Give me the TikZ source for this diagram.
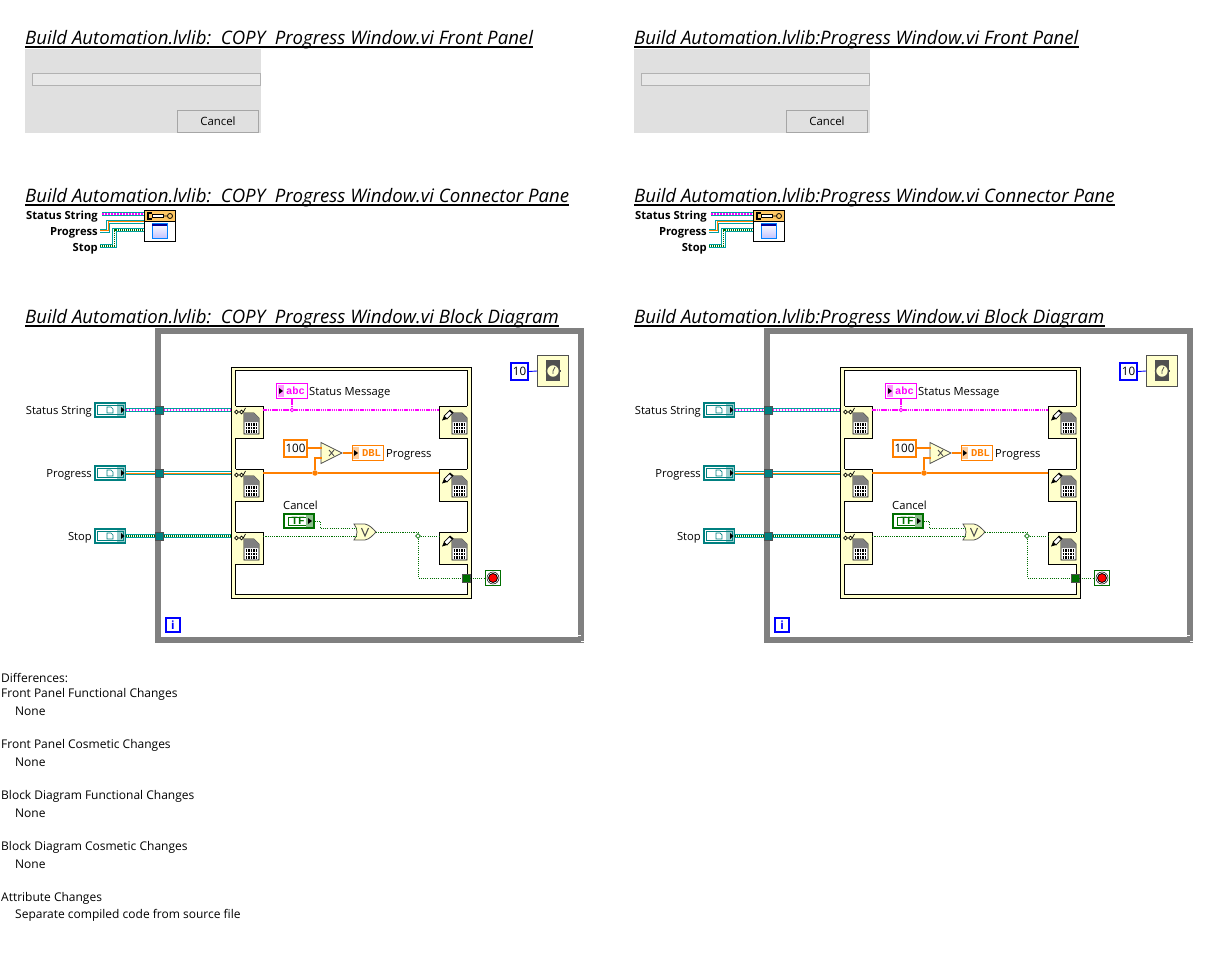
\documentclass[tikz,border=0pt]{standalone}
\usepackage{fontspec}
\setmainfont{Open Sans}
\setmonofont{Liberation Mono}
\usetikzlibrary{shapes.geometric}

\definecolor{lvpink}{HTML}{FF00FF}
\definecolor{lvorange}{HTML}{FF7F00}
\definecolor{lvteal}{HTML}{008080}
\definecolor{lvwire}{HTML}{00A0A0}
\definecolor{lvgreen}{HTML}{006F00}
\definecolor{lvyellow}{HTML}{FFFFCC}
\definecolor{lvgray}{HTML}{808080}
\definecolor{lvdark}{HTML}{505050}
\definecolor{lvheader}{HTML}{FFC864}

\tikzset{
    fileicon/.pic={
        \draw[fill=white, line width=.7pt] (0,0) -- (10,0) -- (15,5) -- (15,21) -- (0,21) -- cycle;
        \fill[black!50] (0,0) -- (10,0) -- (15,5) -- (15,9) -- (0,9) -- cycle;
        \foreach \by in {11.5,15,18.5}
            \draw[line width=2.4pt, dash pattern=on 1.4pt off 1.2pt] (1.5,\by) -- (14,\by);
    },
    glassicon/.pic={
        \draw[line width=.7pt] (2,5) circle (1.8) (7,5) circle (1.8) (3.8,5) -- (5.2,5) (8.8,5) -- (11,1);
    },
    pencilicon/.pic={
        \draw[fill=white, line width=.7pt] (2,7) -- (8,1) -- (11,3.5) -- (5,10) -- cycle;
        \fill (0,11.5) -- (2,7) -- (5,10) -- cycle;
        \fill (7,2) -- (8,1) -- (11,3.5) -- (10,4.5) -- cycle;
    }
}
\begin{document}
\begin{tikzpicture}[x=1pt, y=-1pt, inner sep=0pt,
    titletext/.style={anchor=base west, font=\fontsize{18.6}{20}\selectfont\itshape, text depth=2.5pt},
    titleline/.style={line width=1.5pt},
    body/.style={anchor=west, yshift=-1.6pt, font=\fontsize{11.2}{13}\selectfont},
    listtext/.style={anchor=west, yshift=-1.6pt, font=\fontsize{12}{14}\selectfont},
    label/.style={anchor=east, yshift=-1.6pt, font=\fontsize{11.2}{13}\selectfont},
    panelbg/.style={fill=black!12, minimum width=236pt, minimum height=84pt},
    bar/.style={draw=black!30, fill=black!9, minimum width=227.5pt, minimum height=12pt},
    cancelbtn/.style={draw=black!35, line width=.8pt, minimum width=81.5pt, minimum height=22pt, font=\fontsize{11.4}{13}\selectfont},
    whileloop/.style={draw=lvgray, line width=6pt, minimum width=423pt, minimum height=309pt},
    seqframe/.style={draw, fill=lvyellow, minimum width=239.5pt, minimum height=231.5pt},
    seqinner/.style={draw, fill=white, minimum width=232pt, minimum height=224pt},
    rwnode/.style={draw, fill=lvyellow, minimum width=28pt, minimum height=32pt},
    cover/.style={lvyellow, line width=1.4pt, shorten >=.5pt, shorten <=.5pt},
    ctrlbox/.style={draw=lvteal, line width=1.8pt, fill=white, minimum width=30pt, minimum height=14pt},
    tunnel/.style={draw=lvdark, fill=lvteal, line width=.7pt, minimum size=8pt},
    junction/.style={circle, fill=#1, minimum size=5.5pt},
    const/.style={draw=#1, line width=2.2pt, fill=white, font=\fontsize{11.6}{13}\selectfont},
    indic/.style={draw=#1, line width=.8pt, fill=white, text=#1, font=\ttfamily\bfseries\fontsize{10.5}{11}\selectfont},
    statuswire/.style={draw=lvpink, line width=1.8pt, dash pattern=on 1.5pt off 1.5pt,
        preaction={draw=lvwire, line width=4.4pt, solid}, preaction={draw=white, line width=2.4pt, solid}},
    progresswire/.style={draw=lvorange, line width=1pt,
        preaction={draw=lvwire, line width=4.4pt}, preaction={draw=white, line width=2.4pt}},
    stopwire/.style={draw=lvgreen, line width=1.4pt, dash pattern=on 1pt off 1pt,
        preaction={draw=lvwire, line width=4.4pt, solid}, preaction={draw=white, line width=2.4pt, solid}},
    pinkwire/.style={draw=lvpink, line width=1.9pt, dash pattern=on 1.5pt off .7pt},
    orangewire/.style={draw=lvorange, line width=1.2pt},
    greenwire/.style={draw=lvgreen, line width=1pt, dash pattern=on 1.1pt off 1.1pt}]

    \fill[white] (0,0) rectangle (1218,957);
    \useasboundingbox (0,0) rectangle (1218,957);

    \foreach \dx/\side/\vi in {0/L/{Build Automation.lvlib:\ \ COPY\ \ Progress Window.vi}, 609/R/{Build Automation.lvlib:Progress Window.vi}} {
    \begin{scope}[shift={(\dx,0)}, name prefix=\side-]
        % titles
        \foreach \ty/\tname/\ttext in {44.5/tfront/Front Panel, 202.5/tpane/Connector Pane, 323.5/tdiag/Block Diagram} {
            \node (\tname) [titletext] at (25,\ty) {\vi{} \ttext};
            \draw[titleline] (\tname.south west) -- (\tname.south east);
        }

        % front panel
        \node (panel) [panelbg] at (143,91) {};
        \node (progressbar) [bar] at (146,79.5) {};
        \node (cancel) [cancelbtn] at (218,121) {\raisebox{-1pt}{Cancel}};

        % connector pane
        \node (paneicon) [draw, fill=white, line width=.8pt, minimum width=31pt, minimum height=31pt] at (160,226) {};
        \fill[lvheader] (145,211) rectangle (175,221);
        \draw[line width=.8pt] (145,221) -- (175,221);
        \draw[line width=.8pt, fill=white] (152,214.5) rectangle (163,217.5);
        \draw[line width=1.2pt] (152,213) -- (148,213) -- (148,219) -- (152,219);
        \draw[line width=.8pt] (170,216) circle (2.5) (163,216) -- (167.5,216);
        \shade[top color=white, bottom color=blue!25] (152,224) rectangle (167,239);
        \draw[blue!50!cyan, line width=1pt] (152,224) rectangle (167,239);
        \draw[blue!60!black, line width=1.6pt] (152,225) -- (167,225);
        \foreach \rowy/\rowname/\rowlab in {215/A/Status String, 231/B/Progress, 247/C/Stop}
            \node (pane\rowname) [label, font=\fontsize{11.2}{13}\selectfont\bfseries] at (98,\rowy) {\rowlab};
        \coordinate (inA) at (102,214);
        \coordinate (outA) at (144,214);
        \coordinate (inB) at (100,231);
        \coordinate (outB) at (144,222);
        \coordinate (inC) at (100,246);
        \coordinate (outC) at (144,230);
        \draw[statuswire] (inA) -- (outA);
        \draw[progresswire] (inB) -- ++(8,0) |- (outB);
        \draw[stopwire] (inC) -- ++(14.5,0) |- (outC);

        % block diagram
        \node (loop) [whileloop] at (369.5,485.5) {};
        \draw[white, line width=.8pt] (576,635.5) -- (581,635.5) (581,641) -- (584,641);
        \node (frame) [seqframe] at (351,482.5) {};
        \node (inner) [seqinner] at (351,482) {};

        \foreach \row/\rowname/\rowlab/\rowstyle in {410/A/Status String/statuswire, 473/B/Progress/progresswire, 536/C/Stop/stopwire} {
            \node (lab\rowname) [label] at (92,\row) {\rowlab};
            \node (ctrl\rowname) [ctrlbox] at (110,\row) {};
            \fill[lvteal!40] (117,\row-6) rectangle (125,\row+6);
            \draw[lvteal, line width=.8pt] (97,\row-4.5) rectangle (123,\row+4.5);
            \draw[lvteal, line width=.7pt] (107,\row-3) -- (111,\row-3) -- (113,\row-1) -- (113,\row+3) -- (107,\row+3) -- cycle;
            \fill (121,\row-3) -- (124.5,\row) -- (121,\row+3) -- cycle;
            \node (tun\rowname) [tunnel] at (159.5,\row) {};
            \coordinate (edge\rowname) at (231,\row);
            \draw[\rowstyle] (ctrl\rowname.east) -- (tun\rowname.west);
            \draw[\rowstyle] (tun\rowname.east) -- (edge\rowname);

            \node (read\rowname) [rwnode] at (249,\row+12) {};
            \draw[cover] (read\rowname.north west) -- (read\rowname.south west);
            \pic at (244,\row+3) {fileicon};
            \pic at (234.5,\row-3) {glassicon};
            \node (write\rowname) [rwnode] at (453,\row+12) {};
            \draw[cover] (write\rowname.north east) -- (write\rowname.south east);
            \pic at (452,\row+3) {fileicon};
            \pic at (442,\row-1) {pencilicon};
        }

        % status message
        \node (statusind) [indic=lvpink, minimum width=31pt, minimum height=15pt, line width=1pt] at (292,391) {\hspace{7pt}abc};
        \fill[lvpink!40] (278,385) rectangle (284,397);
        \fill (279,388) -- (283,391) -- (279,394) -- cycle;
        \node (statuslab) [body] at (309,391) {Status Message};
        \node (statusdot) [circle, draw=lvpink, fill=white, line width=.8pt, minimum size=3.5pt] at (292,410) {};
        \draw[pinkwire] (readA.east |- statusdot) -- (statusdot) -- (writeA.west |- statusdot);
        \draw[pinkwire] (statusind.south) -- (statusdot);

        % progress
        \node (hundred) [const=lvorange, minimum width=23pt, minimum height=17pt] at (295.5,448.5) {100};
        \node (multiply) [isosceles triangle, isosceles triangle stretches, draw=lvdark, fill=lvyellow, line width=.8pt, minimum width=21pt, minimum height=21pt, anchor=apex] at (343,453) {};
        \draw[line width=.9pt, lvdark] (329,450) -- (334,456) (334,450) -- (329,456);
        \node (progressind) [indic=lvorange, minimum width=31pt, minimum height=15pt] at (368,453) {\hspace{7pt}DBL};
        \fill[lvorange!40] (353,447) rectangle (359,459);
        \fill (354,450) -- (358,453) -- (354,456) -- cycle;
        \node (progresslab) [body] at (386,453) {Progress};
        \node (progressdot) [junction=lvorange] at (315,473) {};
        \coordinate (multA) at (322,448);
        \coordinate (multB) at (322,458);
        \draw[orangewire] (readB.east |- progressdot) -- (progressdot) -- (writeB.west |- progressdot);
        \draw[orangewire] (hundred.east |- multA) -- (multA);
        \draw[orangewire] (progressdot) |- (multB);
        \draw[orangewire] (multiply.apex) -- (progressind.west);

        % cancel and stop
        \node (cancellab) [body] at (283,504) {Cancel};
        \node (cancelctrl) [draw=lvgreen, line width=2pt, fill=white, minimum width=30pt, minimum height=14pt] at (298.5,521) {};
        \draw[lvgreen, line width=.8pt] (288,517) rectangle (312,525);
        \fill[lvgreen!45] (306,515) rectangle (313,527);
        \node (cancelind) [text=lvgreen, font=\ttfamily\bfseries\fontsize{11}{12}\selectfont] at (298,521) {TF};
        \fill (308,518) -- (312,521) -- (308,524) -- cycle;
        \draw[draw=lvdark, fill=lvyellow, line width=.8pt] (354,524) -- (365,524) .. controls (370,525) and (373,529) .. (376,532) .. controls (373,535) and (370,539) .. (365,540) -- (354,540) .. controls (358,535) and (358,529) .. (354,524) -- cycle;
        \draw[lvdark, line width=1.1pt] (361.5,528) -- (365,536) -- (368.5,528);
        \coordinate (orA) at (356,528);
        \coordinate (orB) at (356,536);
        \coordinate (orOut) at (376,532);
        \node (stopdot) [diamond, draw=lvgreen, fill=white, line width=.8pt, minimum size=5pt] at (418,536) {};
        \node (condtun) [tunnel, fill=lvgreen] at (466,578) {};
        \node (stopterm) [draw=lvgreen, line width=.9pt, fill=white, minimum size=15pt] at (493,578) {};
        \draw[black, fill=red, line width=.8pt] (stopterm.center) circle (4.5);
        \draw[black, line width=.5pt] (stopterm.center) circle (6);
        \draw[greenwire] (cancelctrl.east) -- (320,521) |- (orA);
        \draw[greenwire] (readC.east |- orB) -- (orB);
        \draw[greenwire] (orOut) -| (stopdot.north);
        \draw[greenwire] (stopdot.east) -- (writeC.west |- stopdot);
        \draw[greenwire] (stopdot.south) |- (condtun.west);
        \draw[greenwire] (condtun.east) -- (stopterm.west);

        % wait
        \node (waitconst) [const=blue, minimum width=17pt, minimum height=17pt] at (519.5,371.5) {10};
        \node (waitfn) [draw=lvdark, fill=lvyellow, line width=.9pt, minimum width=31pt, minimum height=31pt] at (553,371) {};
        \draw[blue, line width=.9pt] (waitconst.east) -- (waitfn.west);
        \fill[lvdark] (546,360.5) rectangle (560,381.5);
        \draw[lvdark, fill=lvyellow, line width=1.4pt] (waitfn.center) circle (6.5);
        \fill[lvdark] (559.5,370) rectangle (561,372);
        \draw[lvdark, line width=.7pt] (553,371) -- (555,367) (553,371) -- (553,374);

        % iteration terminal
        \node (iter) [draw=blue, line width=1.8pt, fill=white, minimum width=14.5pt, minimum height=14.5pt, text=blue, font=\fontsize{11.5}{13}\selectfont\bfseries] at (173,625) {i};
    \end{scope}
    }

    % differences list
    \foreach \ly/\lname/\ltext in {676/dhead/Differences:, 693/dfpf/Front Panel Functional Changes, 744/dfpc/Front Panel Cosmetic Changes, 795/dbdf/Block Diagram Functional Changes, 846/dbdc/Block Diagram Cosmetic Changes, 897/dattr/Attribute Changes}
        \node (\lname) [listtext] at (1,\ly) {\ltext};
    \foreach \ly/\lname/\ltext in {710/nfpf/None, 761/nfpc/None, 812/nbdf/None, 863/nbdc/None, 914/nattr/Separate compiled code from source file}
        \node (\lname) [listtext] at (15,\ly) {\ltext};
\end{tikzpicture}
\end{document}
